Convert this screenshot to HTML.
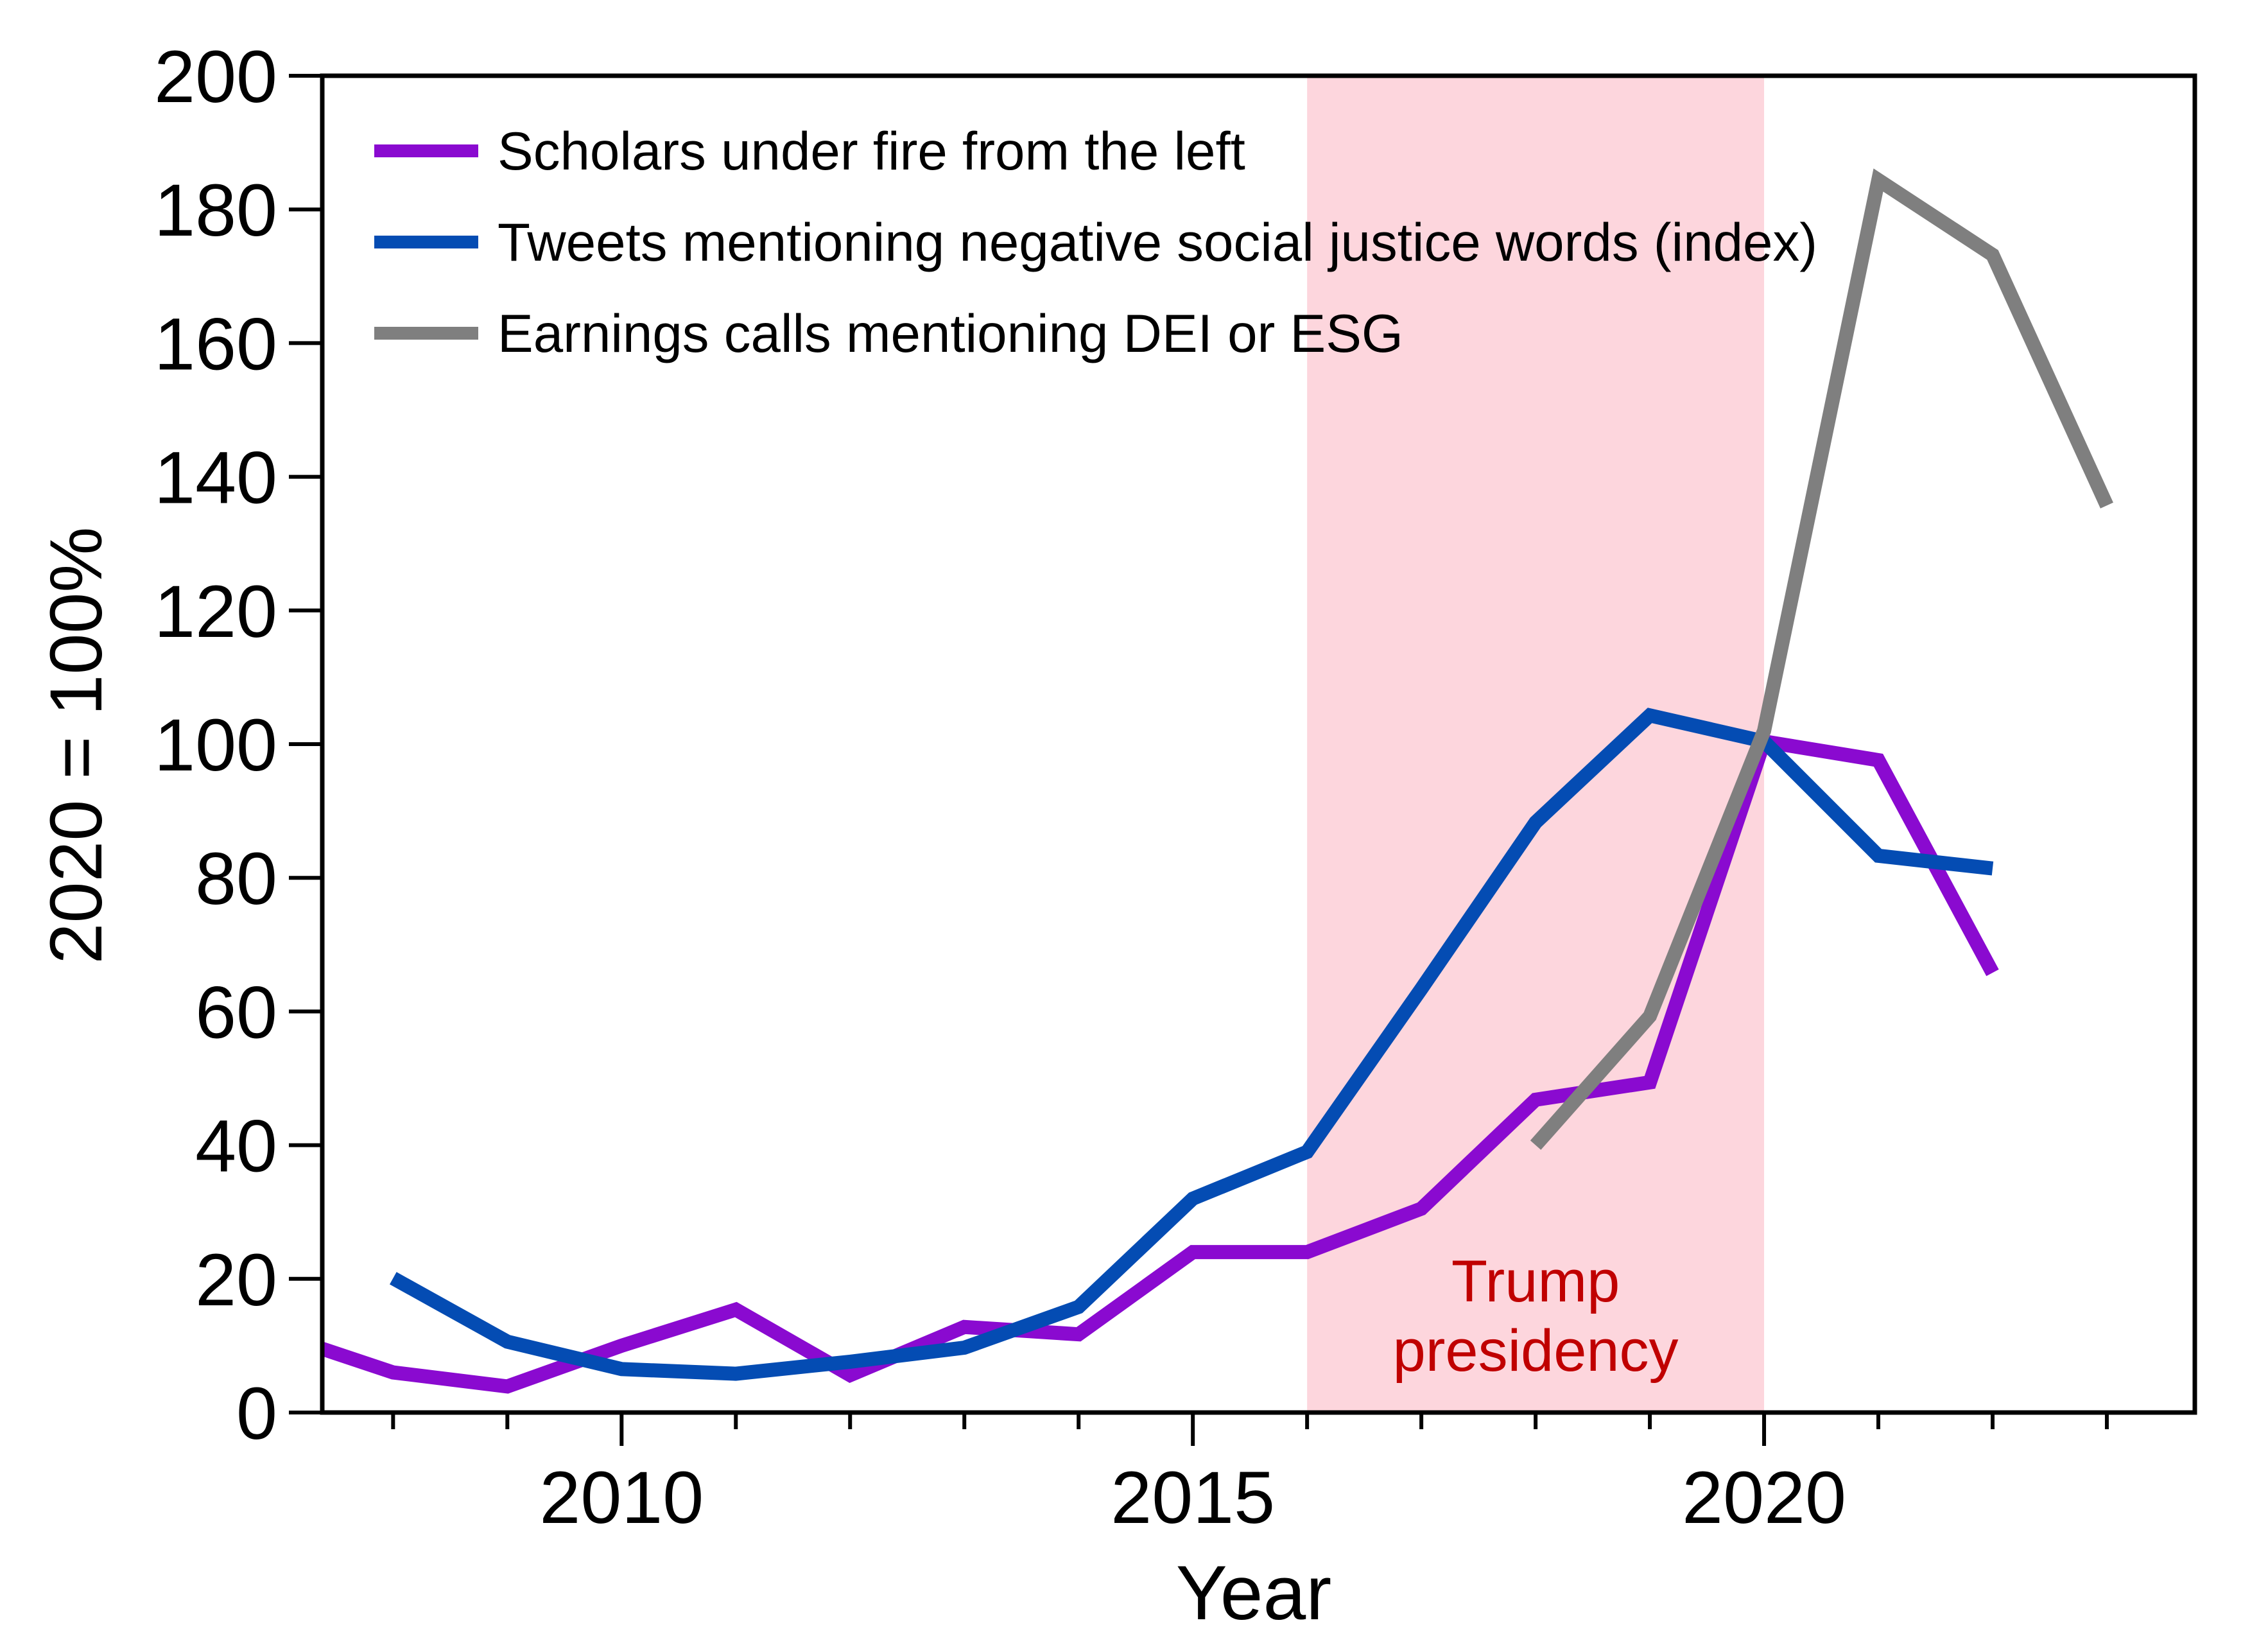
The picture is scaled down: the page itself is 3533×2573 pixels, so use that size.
<!DOCTYPE html>
<html><head><meta charset="utf-8"><style>
html,body{margin:0;padding:0;background:#fff;}
svg{display:block;font-family:"Liberation Sans",Arial,sans-serif;}
</style></head><body>
<svg id="chart" width="3533" height="2573" viewBox="0 0 3533 2573" xmlns="http://www.w3.org/2000/svg">
<defs><clipPath id="plotclip"><rect x="502" y="118" width="2917" height="2082"/></clipPath></defs>
<g id="shade"></g>
<g id="series" clip-path="url(#plotclip)"></g>
<g id="axes"></g>
<g id="legend"></g>
</svg>
<script>
const yearsPurple = [2007,2008,2009,2010,2011,2012,2013,2014,2015,2016,2017,2018,2019,2020,2021,2022];
const valuesPurple = [11.7,6,3.9,10,15.4,5.6,12.8,11.7,24,24,30.5,46.8,49.4,100.4,97.6,65.8];
const yearsBlue = [2008,2009,2010,2011,2012,2013,2014,2015,2016,2017,2018,2019,2020,2021,2022];
const valuesBlue = [20.1,10.6,6.5,5.8,7.6,9.7,15.8,32,39,63.4,88.3,104.3,100.4,83.3,81.4];
const yearsGray = [2018,2019,2020,2021,2022,2023];
const valuesGray = [40,59.3,102,184.4,173.2,135.7];
const yTicks = [0,20,40,60,80,100,120,140,160,180,200];
const xMajor = [2010,2015,2020];
const xMinor = [2008,2009,2011,2012,2013,2014,2016,2017,2018,2019,2021,2022,2023];
const shadeRange = [2016,2020];
const legendLabels = ["Scholars under fire from the left","Tweets mentioning negative social justice words (index)","Earnings calls mentioning DEI or ESG"];

const NS="http://www.w3.org/2000/svg";
const L=502,R=3419,T=118,B=2200;
const x0=2007.38,x1=2023.77;
const sx=v=>L+(v-x0)/(x1-x0)*(R-L);
const sy=v=>B-(v/200)*(B-T);
function mk(tag,attrs,parent){const e=document.createElementNS(NS,tag);for(const k in attrs)e.setAttribute(k,attrs[k]);parent.appendChild(e);return e;}
const shade=document.getElementById('shade'),series=document.getElementById('series'),axes=document.getElementById('axes'),legend=document.getElementById('legend');

const sr=mk('rect',{x:sx(shadeRange[0]),y:T,width:sx(shadeRange[1])-sx(shadeRange[0]),height:B-T,fill:'#fdd6dd'},shade);


const t1=mk('text',{x:sx(2018),y:2027,'text-anchor':'middle','font-size':92,fill:'#c00000'},shade);
t1.textContent='Trump';


const t2=mk('text',{x:sx(2018),y:2135,'text-anchor':'middle','font-size':92,fill:'#c00000'},shade);
t2.textContent='presidency';



function line(xs,vs,color,name){
  const p=mk('polyline',{points:xs.map((x,i)=>sx(x)+','+sy(vs[i])).join(' '),fill:'none',stroke:color,'stroke-width':22,'stroke-linejoin':'miter','stroke-miterlimit':4},series);
  
  
}
line(yearsPurple,valuesPurple,'#8a0ad0','scholars-line');
line(yearsBlue,valuesBlue,'#044cb3','tweets-line');
line(yearsGray,valuesGray,'#7f7f7f','earnings-calls-line');

const fr=mk('rect',{x:L,y:T,width:R-L,height:B-T,fill:'none',stroke:'#000','stroke-width':7},axes);


yTicks.forEach(v=>{
  const tk=mk('line',{x1:L-52,x2:L,y1:sy(v),y2:sy(v),stroke:'#000','stroke-width':6},axes);
  
  
  const tx=mk('text',{x:432,y:sy(v)+41,'text-anchor':'end','font-size':115,fill:'#000'},axes);
  tx.textContent=v;
  
  
});
xMajor.forEach(v=>{
  const tk=mk('line',{x1:sx(v),x2:sx(v),y1:B,y2:B+52,stroke:'#000','stroke-width':6},axes);
  
  
  const tx=mk('text',{x:sx(v),y:2372,'text-anchor':'middle','font-size':115,fill:'#000'},axes);
  tx.textContent=v;
  
  
});
xMinor.forEach(v=>{
  const tk=mk('line',{x1:sx(v),x2:sx(v),y1:B,y2:B+26,stroke:'#000','stroke-width':6},axes);
  
  
});
const xt=mk('text',{x:1953,y:2522,'text-anchor':'middle','font-size':120,fill:'#000'},axes);
xt.textContent='Year';


const yt=mk('text',{x:0,y:0,'text-anchor':'middle','font-size':115,fill:'#000',transform:'translate(158,1161) rotate(-90)'},axes);
yt.textContent='2020 = 100%';



const lc=['#8a0ad0','#044cb3','#7f7f7f'];
const ly=[235,377,519];
legendLabels.forEach((s,i)=>{
  const sw=mk('line',{x1:583,x2:745,y1:ly[i],y2:ly[i],stroke:lc[i],'stroke-width':20},legend);
  
  
  const tx=mk('text',{x:775,y:ly[i]+29,'font-size':83.5,fill:'#000'},legend);
  tx.textContent=s;
  
  
});
</script>
</body></html>
